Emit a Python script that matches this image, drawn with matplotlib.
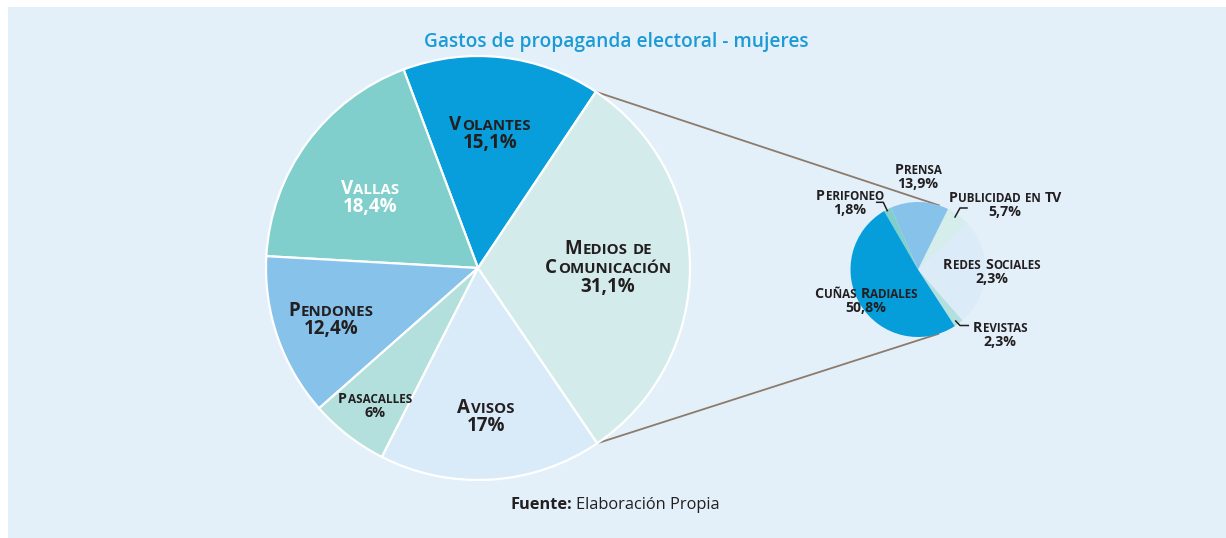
import matplotlib.pyplot as plt
from matplotlib.offsetbox import TextArea, HPacker, VPacker, AnnotationBbox
from matplotlib.patches import Rectangle
import numpy as np

FUENTE = 'Open Sans'
OSCURO = '#231F20'
W, H = 1226, 538

# Pie principal (en orden antihorario desde el borde de Volantes)
categorias = ['Volantes', 'Vallas', 'Pendones', 'Pasacalles', 'Avisos', 'Medios de\nComunicación']
valores = [15.1, 18.4, 12.4, 6.0, 17.0, 31.1]
etiquetas = ['15,1%', '18,4%', '12,4%', '6%', '17%', '31,1%']
colores = ['#079EDB', '#80CFCC', '#86C2EA', '#B3E0DD', '#D9EAF8', '#D3ECEB']

# Desglose de medios de comunicación
medios = ['Revistas', 'Redes Sociales', 'Publicidad en TV', 'Prensa', 'Perifoneo', 'Cuñas Radiales']
medios_val = [2.3, 25.5, 5.7, 13.9, 1.8, 50.8]
medios_etq = ['2,3%', '2,3%', '5,7%', '13,9%', '1,8%', '50,8%']
medios_col = ['#B3E0DD', '#DCEBF8', '#D5EEEC', '#86C2EA', '#80CFCC', '#069DDB']

fig = plt.figure(figsize=(12.26, 5.38), dpi=100)
fig.patch.set_facecolor('white')
ax = fig.add_axes([0, 0, 1, 1])

# panel de fondo
ax.add_patch(Rectangle((8, 0), W - 8, H - 7, facecolor='#E3F0F9', edgecolor='none', zorder=0))

c1, r1 = (478, H - 268), 212
c2, r2 = (918, H - 269.5), 67.5

cunas, _ = ax.pie(valores, colors=colores, startangle=56.2, counterclock=True,
                  center=c1, radius=r1, frame=True,
                  wedgeprops=dict(edgecolor='white', linewidth=1.6))
chicos, _ = ax.pie(medios_val, colors=medios_col, startangle=-57, counterclock=True,
                   center=c2, radius=r2, frame=True,
                   wedgeprops=dict(edgecolor='none', linewidth=0))
for w in cunas + chicos:
    w.set_zorder(2)

# líneas que unen el sector "Medios" con el pie pequeño
med = cunas[-1]
for ang1, ang2 in [(med.theta2, 72), (med.theta1, -72.5)]:
    a1, a2 = np.radians(ang1), np.radians(ang2)
    ax.plot([c1[0] + r1 * np.cos(a1), c2[0] + r2 * np.cos(a2)],
            [c1[1] + r1 * np.sin(a1), c2[1] + r2 * np.sin(a2)],
            color='#8C7B6B', lw=1.3, zorder=1)


def versalitas(texto, grande, chica, color):
    palabras = []
    for palabra in texto.split(' '):
        trozos = []
        run, run_up = '', None
        for ch in palabra:
            up = ch.isupper()
            if run and up != run_up:
                trozos.append((run, run_up))
                run = ''
            run += ch
            run_up = up
        trozos.append((run, run_up))
        hijos = [TextArea(t.upper(), textprops=dict(fontsize=grande if u else chica, fontweight='bold',
                                                     color=color, family=FUENTE))
                 for t, u in trozos]
        palabras.append(HPacker(children=hijos, align='baseline', pad=0, sep=0.5))
    return HPacker(children=palabras, align='baseline', pad=0, sep=chica * 0.35)


def etiqueta(x, y, nombre, pct, grande, chica, color=OSCURO, sep=-1):
    lineas = [versalitas(l, grande, chica, color) for l in nombre.split('\n')]
    lineas.append(TextArea(pct, textprops=dict(fontsize=grande, fontweight='bold', color=color, family=FUENTE)))
    caja = VPacker(children=lineas, align='center', pad=0, sep=sep)
    ab = AnnotationBbox(caja, (x, H - y), xycoords='data', frameon=False,
                        box_alignment=(0.5, 0.5), pad=0, zorder=5)
    ax.add_artist(ab)


# posiciones de las etiquetas (px desde arriba)
pos_main = [(490, 134), (370, 198), (331, 320), (375, 406), (486, 417), (608, 268)]
tam_main = [(13.5, 10.8), (13.5, 10.8), (13.5, 10.8), (10.3, 8.5), (13.5, 10.8), (13.5, 10.8)]
sep_main = [-1, -1, -1, 0.5, -1, -1]
col_main = [OSCURO, 'white', OSCURO, OSCURO, OSCURO, OSCURO]
for nom, pct, (x, y), (g, c), s, col in zip(categorias, etiquetas, pos_main, tam_main, sep_main, col_main):
    etiqueta(x, y, nom, pct, g, c, col, sep=s)

pos_med = [(1000, 335), (992, 272), (1005, 205), (918, 177), (850, 203), (866, 301)]
for nom, pct, (x, y) in zip(medios, medios_etq, pos_med):
    etiqueta(x, y, nom, pct, 10.2, 8.4, sep=0.5)

# líneas guía
guias = [[(876.7, 202.3), (883.3, 202.3), (887.3, 210.7)],
         [(967, 208), (960, 208), (955, 217)],
         [(955.7, 321), (960, 325.5), (968.3, 325.5)]]
for g in guias:
    xs, ys = zip(*g)
    ax.plot(xs, [H - v for v in ys], color=OSCURO, lw=1.1, zorder=4)

ax.text(616.5, H - 42, 'Gastos de propaganda electoral - mujeres', ha='center', va='center',
        fontsize=13.8, fontweight='semibold', color='#1B9AD6', family=FUENTE, zorder=5)

fuente = HPacker(children=[
    TextArea('Fuente:', textprops=dict(fontsize=11.8, fontweight='bold', color=OSCURO, family=FUENTE)),
    TextArea('Elaboración Propia', textprops=dict(fontsize=11.8, color=OSCURO, family=FUENTE))],
    align='baseline', pad=0, sep=3)
ax.add_artist(AnnotationBbox(fuente, (615, H - 505), xycoords='data', frameon=False,
                             box_alignment=(0.5, 0.5), pad=0, zorder=5))

ax.set_xlim(0, W)
ax.set_ylim(0, H)
ax.axis('off')

fig.savefig('out.png', dpi=100, facecolor='white')
